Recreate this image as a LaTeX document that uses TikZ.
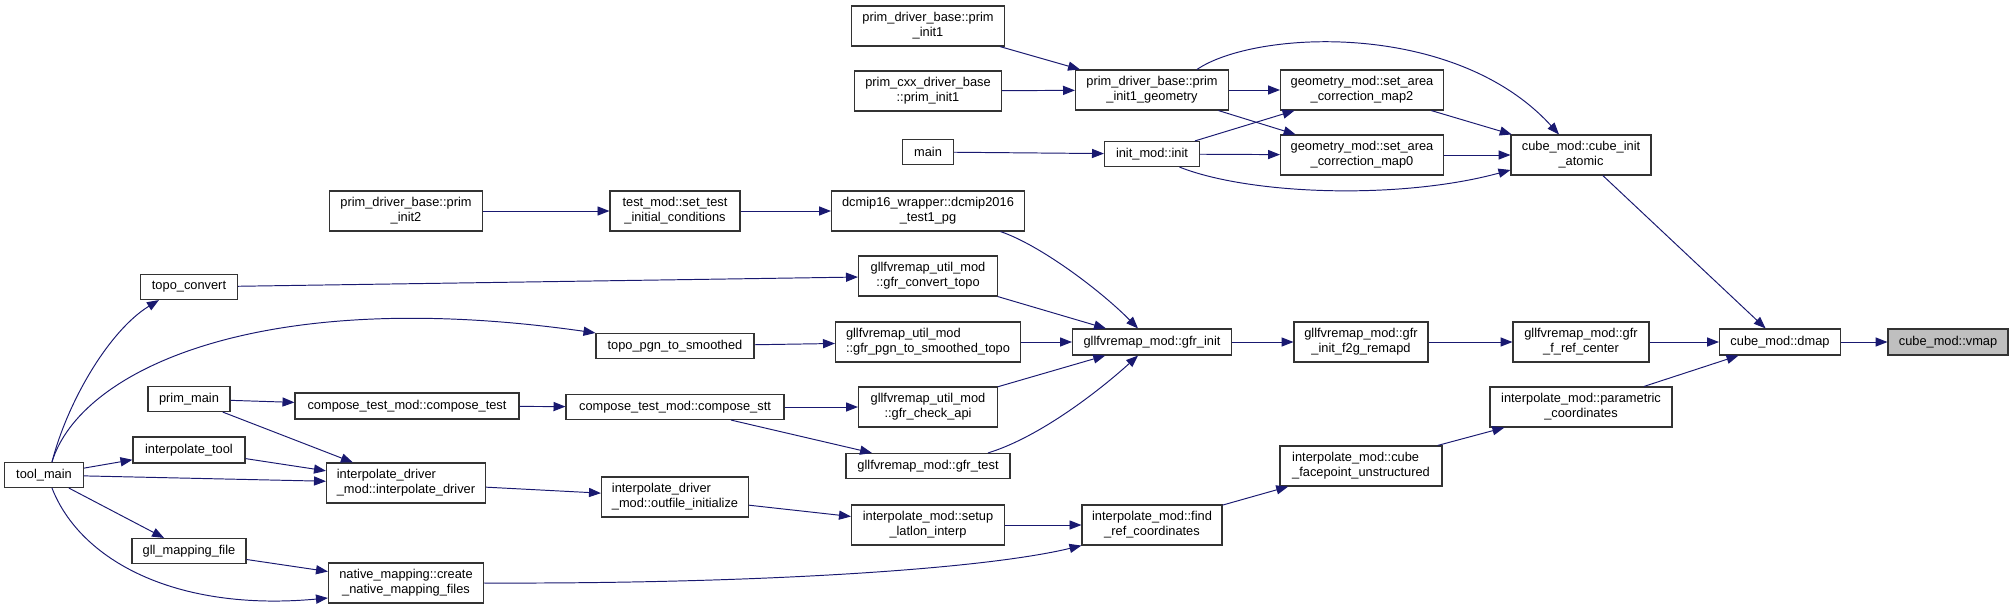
\documentclass[tikz,border=0pt]{standalone}
\usepackage{fontspec}
\setmainfont{Liberation Sans}
\definecolor{callblue}{RGB}{25,25,112}
\definecolor{boxgray}{RGB}{191,191,191}
\usetikzlibrary{arrows.meta}

\begin{document}
\begin{tikzpicture}[x=0.02cm, y=-0.02cm,
  fnbox/.style={draw=black!80, line width=0.65pt, fill=white, minimum height=0.8cm, inner xsep=2pt, inner ysep=1pt, align=center, font=\fontsize{7.3}{8.5}\selectfont},
  fnleft/.style={fnbox, align=left},
  fnone/.style={fnbox, minimum height=0.5cm},
  callarrow/.style={draw=callblue, line width=0.55pt, -{Triangle[length=6.8pt,width=5.2pt,fill=callblue]}}]
  \useasboundingbox (0,0) rectangle (2013,609);

  \node[fnbox, minimum width=3.06cm] (pdbinit1) at (928,26) {prim\_driver\_base::prim\\\_init1};
  \node[fnbox, minimum width=2.94cm] (pcxxinit1) at (928,91) {prim\_cxx\_driver\_base\\::prim\_init1};
  \node[fnone, minimum width=1.02cm] (main) at (928,152) {main};
  \node[fnbox, minimum width=3.06cm] (geom) at (1152,90) {prim\_driver\_base::prim\\\_init1\_geometry};
  \node[fnone, minimum width=1.9cm] (init) at (1152,154) {init\_mod::init};
  \node[fnbox, minimum width=3.26cm] (map2) at (1362,90) {geometry\_mod::set\_area\\\_correction\_map2};
  \node[fnbox, minimum width=3.26cm] (map0) at (1362,155) {geometry\_mod::set\_area\\\_correction\_map0};
  \node[fnbox, minimum width=2.8cm] (cubeinit) at (1581,155) {cube\_mod::cube\_init\\\_atomic};

  \node[fnbox, minimum width=3.06cm] (pinit2) at (406,211) {prim\_driver\_base::prim\\\_init2};
  \node[fnbox, minimum width=2.6cm] (settest) at (675,211) {test\_mod::set\_test\\\_initial\_conditions};
  \node[fnbox, minimum width=3.86cm] (dcmip) at (928,211) {dcmip16\_wrapper::dcmip2016\\\_test1\_pg};
  \node[fnone, minimum width=1.94cm] (topoconv) at (189,287) {topo\_convert};
  \node[fnbox, minimum width=2.78cm] (gfrconv) at (928,276) {gllfvremap\_util\_mod\\::gfr\_convert\_topo};
  \node[fnone, minimum width=3.16cm] (topopgn) at (675,346) {topo\_pgn\_to\_smoothed};
  \node[fnleft, minimum width=3.7cm] (gfrpgn) at (928,342) {gllfvremap\_util\_mod\\::gfr\_pgn\_to\_smoothed\_topo};
  \node[fnone, minimum width=3.18cm, minimum height=0.52cm] (gfrinit) at (1152,342) {gllfvremap\_mod::gfr\_init};
  \node[fnbox, minimum width=2.68cm] (f2g) at (1361,342) {gllfvremap\_mod::gfr\\\_init\_f2g\_remapd};
  \node[fnbox, minimum width=2.72cm] (frefc) at (1581,342) {gllfvremap\_mod::gfr\\\_f\_ref\_center};
  \node[fnone, minimum width=2.42cm, minimum height=0.52cm] (dmap) at (1780,342) {cube\_mod::dmap};
  \node[fnone, minimum width=2.4cm, minimum height=0.52cm, fill=boxgray] (vmap) at (1948,342) {cube\_mod::vmap};

  \node[fnone, minimum width=1.64cm] (primmain) at (189,399) {prim\_main};
  \node[fnone, minimum width=4.48cm, minimum height=0.52cm] (comptest) at (407,406) {compose\_test\_mod::compose\_test};
  \node[fnone, minimum width=4.36cm] (compstt) at (675,407) {compose\_test\_mod::compose\_stt};
  \node[fnbox, minimum width=2.78cm] (gfrcheck) at (928,407) {gllfvremap\_util\_mod\\::gfr\_check\_api};
  \node[fnbox, minimum width=3.64cm] (param) at (1581,407) {interpolate\_mod::parametric\\\_coordinates};
  \node[fnone, minimum width=2.24cm, minimum height=0.52cm] (interptool) at (189,450) {interpolate\_tool};
  \node[fnone, minimum width=3.28cm] (gfrtest) at (928,466) {gllfvremap\_mod::gfr\_test};
  \node[fnleft, minimum width=3.24cm] (cubeface) at (1361,466) {interpolate\_mod::cube\\\_facepoint\_unstructured};
  \node[fnone, minimum width=1.58cm] (toolmain) at (44,475) {tool\_main};
  \node[fnleft, minimum width=3.18cm] (interpdrv) at (406,483) {interpolate\_driver\\\_mod::interpolate\_driver};
  \node[fnleft, minimum width=2.94cm] (outfile) at (675,497) {interpolate\_driver\\\_mod::outfile\_initialize};
  \node[fnbox, minimum width=3.06cm] (setuplat) at (928,525) {interpolate\_mod::setup\\\_latlon\_interp};
  \node[fnbox, minimum width=2.8cm] (findref) at (1152,525) {interpolate\_mod::find\\\_ref\_coordinates};
  \node[fnone, minimum width=2.28cm] (gllmap) at (189,551) {gll\_mapping\_file};
  \node[fnbox, minimum width=3.1cm] (native) at (406,583) {native\_mapping::create\\\_native\_mapping\_files};

  \draw[callarrow] (pdbinit1) -- (geom);
  \draw[callarrow] (pcxxinit1) -- (geom);
  \draw[callarrow] (main) -- (init);
  \draw[callarrow] (geom) -- (map2);
  \draw[callarrow] (geom) -- (map0);
  \draw[callarrow] ([xshift=0.9cm]geom.north) .. controls (1255,30) and (1455,20) .. ([xshift=-0.44cm]cubeinit.north);
  \draw[callarrow] (init) -- (map2);
  \draw[callarrow] (init) -- (map0);
  \draw[callarrow] ([xshift=0.55cm]init.south) .. controls (1250,195) and (1400,200) .. ([yshift=-0.3cm]cubeinit.west);
  \draw[callarrow] (map2) -- (cubeinit);
  \draw[callarrow] (map0) -- (cubeinit);
  \draw[callarrow] (cubeinit) -- (dmap);

  \draw[callarrow] (pinit2) -- (settest);
  \draw[callarrow] (settest) -- (dcmip);
  \draw[callarrow] ([xshift=1.45cm]dcmip.south) .. controls (1040,245) and (1100,290) .. ([xshift=-0.28cm]gfrinit.north);
  \draw[callarrow] (topoconv) -- (gfrconv);
  \draw[callarrow] (gfrconv) -- (gfrinit);
  \draw[callarrow] (topopgn) -- (gfrpgn);
  \draw[callarrow] (gfrpgn) -- (gfrinit);
  \draw[callarrow] (gfrcheck) -- (gfrinit);
  \draw[callarrow] ([xshift=1.2cm]gfrtest.north) .. controls (1040,437) and (1100,390) .. ([xshift=-0.28cm]gfrinit.south);
  \draw[callarrow] (gfrinit) -- (f2g);
  \draw[callarrow] (f2g) -- (frefc);
  \draw[callarrow] (frefc) -- (dmap);
  \draw[callarrow] (param) -- (dmap);
  \draw[callarrow] (dmap) -- (vmap);

  \draw[callarrow] (cubeface) -- (param);
  \draw[callarrow] (findref) -- (cubeface);
  \draw[callarrow] (setuplat) -- (findref);
  \draw[callarrow] (native.east) .. controls (750,584) and (980,570) .. (findref.south west);
  \draw[callarrow] (outfile) -- (setuplat);
  \draw[callarrow] (interpdrv) -- (outfile);
  \draw[callarrow] (primmain) -- (comptest);
  \draw[callarrow] (primmain) -- (interpdrv);
  \draw[callarrow] (comptest) -- (compstt);
  \draw[callarrow] (compstt) -- (gfrcheck);
  \draw[callarrow] (compstt) -- (gfrtest);
  \draw[callarrow] (interptool) -- (interpdrv);

  \draw[callarrow] (toolmain) -- (interptool);
  \draw[callarrow] (toolmain) -- (interpdrv);
  \draw[callarrow] (toolmain) -- (gllmap);
  \draw[callarrow] (gllmap) -- (native);
  \draw[callarrow] ([xshift=0.16cm]toolmain.north) .. controls (68,400) and (110,330) .. ([xshift=0.38cm]topoconv.south west);
  \draw[callarrow] ([xshift=0.16cm]toolmain.north) .. controls (80,370) and (260,285) .. (topopgn.north west);
  \draw[callarrow] ([xshift=0.16cm]toolmain.south) .. controls (80,560) and (175,612) .. ([yshift=-0.3cm]native.west);
\end{tikzpicture}
\end{document}
